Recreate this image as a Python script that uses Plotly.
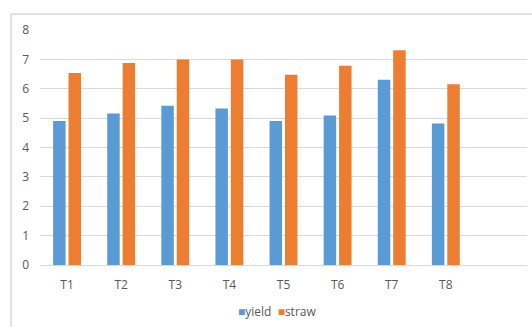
import plotly.graph_objects as go

categories = ["T1", "T2", "T3", "T4", "T5", "T6", "T7", "T8"]
yield_vals = [4.9, 5.16, 5.42, 5.33, 4.9, 5.09, 6.31, 4.82]
straw_vals = [6.54, 6.88, 7.0, 7.0, 6.48, 6.78, 7.31, 6.15]
series_names = ["yield", "straw"]
series_colors = ["#5B9BD5", "#ED7D31"]

W, H = 532, 327
L, R, T, B = 40, 5, 30, 62
pw, ph = W - L - R, H - T - B

def px_x(x):
    return (x - L) / pw

def px_y(y):
    return (H - B - y) / ph

font = dict(family="Open Sans, Liberation Sans, sans-serif", size=12, color="#595959")

fig = go.Figure()
for name, vals, color in zip(series_names, [yield_vals, straw_vals], series_colors):
    fig.add_trace(go.Bar(name=name, x=categories, y=vals, marker_color=color,
                         marker_line_width=0, showlegend=False))

# compact legend line beneath the plot
legend_text = "  ".join(
    f"<span style='color:{c}'>■</span><span style='color:#595959'>{n}</span>"
    for n, c in zip(series_names, series_colors)
)

fig.update_layout(
    width=W, height=H,
    margin=dict(l=L, r=R, t=T, b=B),
    paper_bgcolor="white", plot_bgcolor="white",
    barmode="group", bargap=0.43, bargroupgap=0.19,
    font=font,
    xaxis=dict(type="category", categoryorder="array", categoryarray=categories,
               range=[-0.5, 8.5], showgrid=False, zeroline=False,
               showline=False, ticks="", tickfont=font, ticklabelstandoff=11),
    yaxis=dict(range=[0, 8], dtick=1, showgrid=True, gridcolor="#D9D9D9", gridwidth=1,
               zeroline=True, zerolinecolor="#D9D9D9", zerolinewidth=1,
               showline=False, ticks="", tickfont=font, ticklabelstandoff=10),
    annotations=[
        dict(text=legend_text, xref="paper", yref="paper", x=px_x(277), y=px_y(311),
             xanchor="center", yanchor="middle", showarrow=False,
             font=dict(family=font["family"], size=12)),
    ],
    shapes=[
        # chart area border (left and top edges)
        dict(type="line", xref="paper", yref="paper",
             x0=px_x(11), x1=px_x(11), y0=px_y(14), y1=px_y(H + 2),
             line=dict(color="#D9D9D9", width=1.5)),
        dict(type="line", xref="paper", yref="paper",
             x0=px_x(11), x1=px_x(W + 2), y0=px_y(14), y1=px_y(14),
             line=dict(color="#D9D9D9", width=1.5)),
    ],
)

fig.write_html("out.html")
